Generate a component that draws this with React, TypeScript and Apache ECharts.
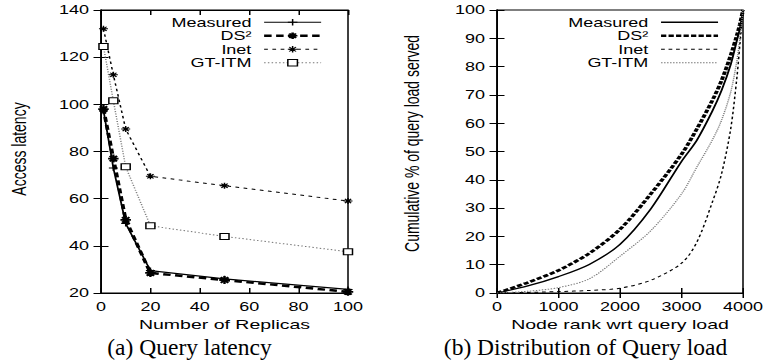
import React, { useEffect, useRef } from "react";
import * as echarts from "echarts";

// ---- data ----
const replicas = [1, 5, 10, 20, 50, 100];
const latencyMeasured = [97.5, 73, 49.5, 29.5, 26, 21.5];
const latencyDS2 = [98, 77, 51, 28.5, 25.5, 20.5];
const latencyInet = [132, 112.5, 89.5, 69.5, 65.5, 59];
const latencyGTITM = [124.5, 101.5, 73.5, 48.5, 44, 37.5];

const nodeRank = [0, 500, 1000, 1500, 2000, 2500, 3000, 3250, 3500, 3650, 3800, 3900, 3950, 4000];
const loadMeasured = [0, 2.5, 5.8, 10.1, 17.2, 29.7, 46.5, 54, 64.2, 71.5, 80.7, 89.2, 93.5, 100];
const loadDS2 = [0, 3.7, 8, 14, 22.5, 35, 49, 58, 68, 75, 84, 91, 95, 100];
const loadInet = [0, 0.2, 0.5, 0.9, 1.7, 4.5, 10.5, 18, 32, 42, 58, 76, 88, 100];
const loadGTITM = [0, 0.6, 1.9, 5, 13, 22, 35, 44.5, 54, 61, 71, 82, 90, 100];

const seriesNames = ["Measured", "DS\u00b2", "Inet", "GT-ITM"];
const captionA = "(a) Query latency";
const captionB = "(b) Distribution of Query load";

const S = 1.5; // horizontal stretch of the plot image
const W = 768 / S;
const SANS = "'Liberation Sans', Arial, Helvetica, sans-serif";
const SERIF = "'Liberation Serif', 'Times New Roman', serif";

const zip = (xs: number[], ys: number[]) => xs.map((x, i) => [x, ys[i]]);

const PLUS = "path://M0,5L10,5M5,0L5,10";
const STAR = "path://M0,5L10,5M5,0L5,10M1.5,1.5L8.5,8.5M8.5,1.5L1.5,8.5";

export default function App() {
  const ref = useRef<HTMLDivElement>(null);
  useEffect(() => {
    if (!ref.current) return;
    const chart = echarts.init(ref.current, undefined, { renderer: "svg" });

    const axisCommon = {
      axisLine: { show: true, lineStyle: { color: "#000", width: 1 } },
      axisTick: { show: true, inside: true, length: 5, lineStyle: { color: "#000" } },
      splitLine: { show: false },
      axisLabel: {
        color: "#000",
        fontSize: 12,
        fontFamily: SANS,
        margin: 8,
        formatter: (v: number) => String(v),
      },
      nameTextStyle: { color: "#000", fontFamily: SANS },
    };
    const mirror = (extra: any) => ({
      ...axisCommon,
      ...extra,
      axisLabel: { show: false },
    });

    const grids = [
      { left: 101 / S, top: 10, width: (348 - 101) / S, height: 283 },
      { left: 497 / S, top: 10, width: (743 - 497) / S, height: 283 },
    ];

    const xA = { type: "value", min: 0, max: 100, interval: 20 };
    const yA = { type: "value", min: 20, max: 140, interval: 20 };
    const xB = { type: "value", min: 0, max: 4000, interval: 1000 };
    const yB = { type: "value", min: 0, max: 100, interval: 10 };

    const leftSeriesStyle = [
      {
        name: seriesNames[0],
        data: latencyMeasured,
        lineStyle: { color: "#000", width: 1.2, type: "solid" },
        symbol: PLUS,
        symbolSize: 6,
        itemStyle: { color: "none", borderColor: "#000", borderWidth: 1 },
      },
      {
        name: seriesNames[1],
        data: latencyDS2,
        lineStyle: { color: "#000", width: 2.5, type: [5, 3] },
        symbol: STAR,
        symbolSize: [7, 8],
        itemStyle: { color: "none", borderColor: "#000", borderWidth: 1.7 },
      },
      {
        name: seriesNames[2],
        data: latencyInet,
        lineStyle: { color: "#000", width: 1, type: [2.5, 3] },
        symbol: STAR,
        symbolSize: [6, 6],
        itemStyle: { color: "none", borderColor: "#000", borderWidth: 1 },
      },
      {
        name: seriesNames[3],
        data: latencyGTITM,
        lineStyle: { color: "#777", width: 1, type: [1, 1.5] },
        symbol: "rect",
        symbolSize: [6, 6],
        itemStyle: { color: "#fff", borderColor: "#000", borderWidth: 1 },
      },
    ];

    const rightSeriesStyle = [
      { name: seriesNames[0] + " ", data: loadMeasured, lineStyle: { color: "#000", width: 1.3, type: "solid" } },
      { name: seriesNames[1] + " ", data: loadDS2, lineStyle: { color: "#000", width: 2.6, type: [3.5, 1.5] } },
      { name: seriesNames[2] + " ", data: loadInet, lineStyle: { color: "#000", width: 1, type: [2.5, 2.5] } },
      { name: seriesNames[3] + " ", data: loadGTITM, lineStyle: { color: "#777", width: 1, type: [1, 1] } },
    ];

    const series: any[] = [];
    leftSeriesStyle.forEach((s) => {
      series.push({
        type: "line",
        xAxisIndex: 0,
        yAxisIndex: 0,
        name: s.name,
        data: zip(replicas, s.data),
        lineStyle: s.lineStyle,
        symbol: s.symbol,
        symbolSize: s.symbolSize,
        itemStyle: s.itemStyle,
        showSymbol: true,
        z: 3,
      });
    });
    rightSeriesStyle.forEach((s) => {
      series.push({
        type: "line",
        xAxisIndex: 2,
        yAxisIndex: 2,
        name: s.name,
        data: zip(nodeRank, s.data),
        lineStyle: s.lineStyle,
        itemStyle: { color: s.lineStyle.color },
        symbol: "none",
        smooth: 0.3,
        z: 3,
      });
    });

    const legendCommon = {
      orient: "vertical",
      top: 15.5,
      itemWidth: 38,
      itemHeight: 8,
      itemGap: 0,
      align: "right",
      padding: 0,
      selectedMode: false,
      textStyle: { color: "#000", fontSize: 12, fontFamily: SANS, lineHeight: 13.5, padding: [0, 3.5, 0, 0] },
    };

    chart.setOption({
      animation: false,
      backgroundColor: "#fff",
      grid: grids.map((g) => ({ ...g, show: true, borderColor: "#000", borderWidth: 1, containLabel: false })),
      xAxis: [
        {
          ...axisCommon,
          ...xA,
          gridIndex: 0,
          position: "bottom",
          name: "Number of Replicas",
          nameLocation: "middle",
          nameGap: 25,
          nameTextStyle: { color: "#000", fontFamily: SANS, fontSize: 13 },
        },
        mirror({ ...xA, gridIndex: 0, position: "top" }),
        {
          ...axisCommon,
          ...xB,
          gridIndex: 1,
          position: "bottom",
          name: "Node rank wrt query load",
          nameLocation: "middle",
          nameGap: 25,
          nameTextStyle: { color: "#000", fontFamily: SANS, fontSize: 13 },
        },
        mirror({ ...xB, gridIndex: 1, position: "top" }),
      ],
      yAxis: [
        {
          ...axisCommon,
          ...yA,
          gridIndex: 0,
          position: "left",
          name: "Access latency",
          nameLocation: "middle",
          nameGap: 47.5,
          nameTextStyle: { color: "#000", fontFamily: SANS, fontSize: 14, padding: [0, 0, 0, 5] },
        },
        mirror({ ...yA, gridIndex: 0, position: "right" }),
        {
          ...axisCommon,
          ...yB,
          gridIndex: 1,
          position: "left",
          name: "Cumulative % of query load served",
          nameLocation: "middle",
          nameGap: 49.5,
          nameTextStyle: { color: "#000", fontFamily: SANS, fontSize: 14, padding: [0, 0, 0, 16] },
        },
        mirror({ ...yB, gridIndex: 1, position: "right" }),
      ],
      legend: [
        {
          ...legendCommon,
          right: W - 323 / S,
          data: leftSeriesStyle.map((s) => ({
            name: s.name,
            lineStyle: { width: s.lineStyle.width, type: s.lineStyle.type, color: s.lineStyle.color },
            itemStyle: { ...s.itemStyle },
          })),
        },
        {
          ...legendCommon,
          right: W - 720 / S,
          itemStyle: { opacity: 0 },
          data: rightSeriesStyle.map((s) => ({
            name: s.name,
            lineStyle: { width: s.lineStyle.width, type: s.lineStyle.type, color: s.lineStyle.color },
            itemStyle: { opacity: 0 },
          })),
          formatter: (n: string) => n.trim(),
        },
      ],
      series,
      graphic: [
        {
          type: "text",
          x: 189.5 / S,
          y: 347,
          scaleX: 1 / S,
          style: { text: captionA, fill: "#000", fontSize: 23.5, fontFamily: SERIF, align: "center", verticalAlign: "middle" },
        },
        {
          type: "text",
          x: 585.5 / S,
          y: 347,
          scaleX: 1 / S,
          style: { text: captionB, fill: "#000", fontSize: 23.5, fontFamily: SERIF, align: "center", verticalAlign: "middle" },
        },
      ],
    });
    return () => chart.dispose();
  }, []);

  return (
    <div style={{ position: "fixed", left: 0, top: 0, width: 768, height: 364, overflow: "hidden", background: "#fff" }}>
      <div
        ref={ref}
        style={{
          position: "absolute",
          left: 0,
          top: 0,
          width: W,
          height: 364,
          transform: `scaleX(${S})`,
          transformOrigin: "0 0",
        }}
      />
    </div>
  );
}
